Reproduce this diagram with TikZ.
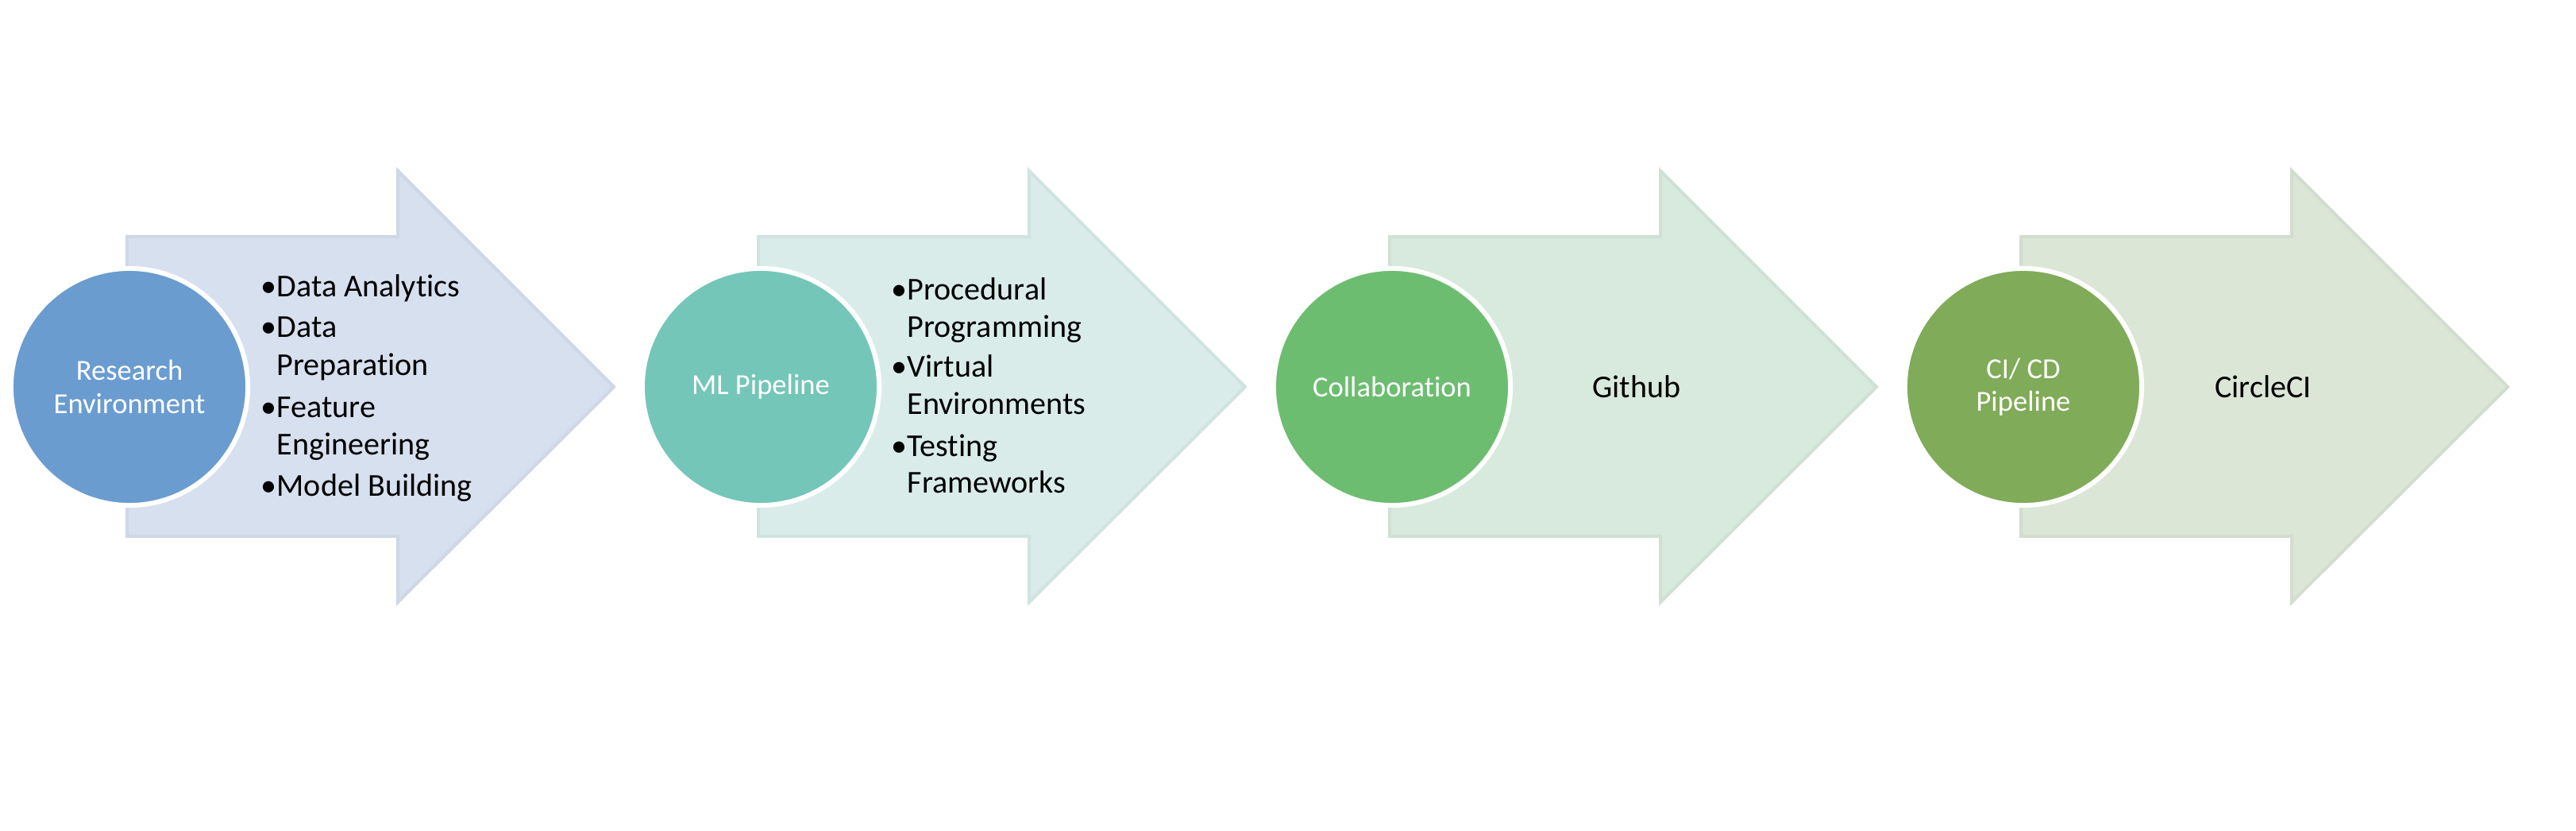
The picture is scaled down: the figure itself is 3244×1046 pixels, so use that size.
\documentclass[tikz,border=0pt]{standalone}
\usepackage{fontspec}
\setmainfont[Ligatures={NoCommon,NoRequired,NoContextual}]{Carlito}
\definecolor{cA}{HTML}{6A9CD0}
\definecolor{aA}{HTML}{D7E0EF}
\definecolor{cB}{HTML}{74C6B8}
\definecolor{aB}{HTML}{DAECEA}
\definecolor{cC}{HTML}{6DBD71}
\definecolor{aC}{HTML}{D8E9DD}
\definecolor{cD}{HTML}{80AB58}
\definecolor{aD}{HTML}{DBE6D6}
\begin{document}
\begin{tikzpicture}[x=0.01cm,y=-0.01cm,
  disc/.style={circle,inner sep=0pt,minimum size=2.98cm,draw=white,line width=0.06cm,
    text=white,align=center,font=\fontsize{10.4}{11.7}\selectfont},
  item/.style={anchor=base west,inner sep=0pt,font=\fontsize{11.4}{13.6}\selectfont},
  plain/.style={anchor=center,inner sep=0pt,font=\fontsize{11.4}{13.6}\selectfont}]
\useasboundingbox (0,0) rectangle (3244,1046);
% arrows
\foreach \L/\f in {160/aA,955/aB,1750/aC,2545/aD}{
  \filldraw[fill=\f,draw=\f!96!black,line width=0.04cm,line join=miter]
    (\L,298) -- ({\L+341},298) -- ({\L+341},215) -- ({\L+613},487)
    -- ({\L+341},758) -- ({\L+341},675) -- (\L,675) -- cycle;
}
% circles
\node[disc,fill=cA] (c1) at (163,487) {Research\\Environment};
\node[disc,fill=cB] (c2) at (958,487) {ML Pipeline};
\node[disc,fill=cC] (c3) at (1753,487) {Collaboration};
\node[disc,fill=cD] (c4) at (2548,487) {CI/ CD\\Pipeline};
% arrow 1 list
\node[item] (a1l1) at (328,374) {•Data Analytics};
\node[item] (a1l2) at (328,425) {•Data};
\node[item] (a1l3) at (328,473) {\phantom{•}Preparation};
\node[item] (a1l4) at (328,526) {•Feature};
\node[item] (a1l5) at (328,573) {\phantom{•}Engineering};
\node[item] (a1l6) at (328,625) {•Model Building};
% arrow 2 list
\node[item] (a2l1) at (1122,378) {•Procedural};
\node[item] (a2l2) at (1122,425) {\phantom{•}Programming};
\node[item] (a2l3) at (1122,475) {•Virtual};
\node[item] (a2l4) at (1122,522) {\phantom{•}Environments};
\node[item] (a2l5) at (1122,575) {•Testing};
\node[item] (a2l6) at (1122,620) {\phantom{•}Frameworks};
% arrow 3, 4
\node[plain] (t3) at (2061,487) {Github};
\node[plain] (t4) at (2850,487) {CircleCI};
\end{tikzpicture}
\end{document}
